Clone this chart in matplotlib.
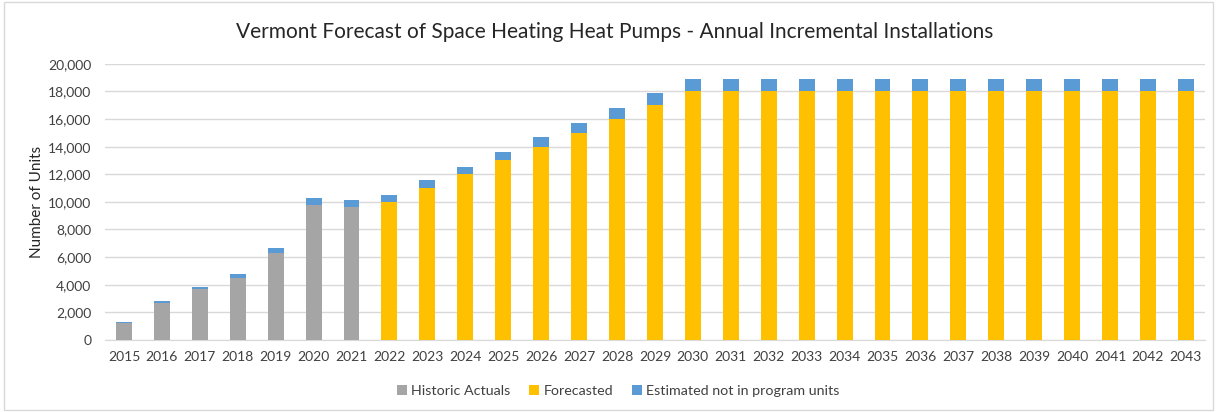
import matplotlib.pyplot as plt
from matplotlib.patches import Rectangle

plt.rcParams['font.family'] = ['Lato', 'DejaVu Sans']

# Annual incremental installations
years = [str(y) for y in range(2015, 2044)]
historic = [1250, 2700, 3670, 4520, 6280, 9810, 9610] + [0] * 22
forecast = [0] * 7 + [10000, 11000, 12000, 13000, 14000, 15000, 16000, 17000] + [18000] * 14
not_in_program = [80, 150, 150, 260, 360, 500, 530,
                  480, 550, 560, 650, 700, 720, 790, 870] + [890] * 14

gray = '#A5A5A5'
yellow = '#FFC000'
blue = '#5B9BD5'

fig = plt.figure(figsize=(12.17, 4.12), dpi=100)
ax = fig.add_axes([0.0863, 0.175, 0.9037, 0.670])

x = range(len(years))
base = [h + f for h, f in zip(historic, forecast)]
w = 0.42
ax.bar(x, historic, width=w, color=gray, label='Historic Actuals', zorder=3)
ax.bar(x, forecast, width=w, bottom=historic, color=yellow, label='Forecasted', zorder=3)
ax.bar(x, not_in_program, width=w, bottom=base, color=blue,
       label='Estimated not in program units', zorder=3)

ax.set_xlim(-0.5, len(years) - 0.5)
ax.set_ylim(0, 20000)
ax.set_yticks(range(0, 20001, 2000))
ax.set_yticklabels([f'{v:,}' for v in range(0, 20001, 2000)])
ax.set_xticks(list(x))
ax.set_xticklabels(years)
ax.tick_params(axis='both', length=0, labelsize=10, colors='#404040')
ax.tick_params(axis='y', pad=10)
ax.tick_params(axis='x', pad=8)
ax.yaxis.grid(True, color='#D9D9D9', linewidth=1, zorder=0)
for s in ['top', 'right', 'left']:
    ax.spines[s].set_visible(False)
ax.spines['bottom'].set_color('#D9D9D9')

ax.set_ylabel('Number of Units', fontsize=11, color='#262626', labelpad=3)
fig.text(0.505, 0.922, 'Vermont Forecast of Space Heating Heat Pumps - Annual Incremental Installations',
         ha='center', va='center', fontsize=15, color='#262626')

fig.legend(loc='center', bbox_to_anchor=(0.508, 0.05), ncol=3, frameon=False,
           fontsize=10.3, handlelength=0.7, handleheight=0.7, handletextpad=0.3,
           columnspacing=1.3, labelcolor='#404040')

fig.patches.append(Rectangle((0.003, 0.005), 0.994, 0.99, transform=fig.transFigure,
                             fill=False, edgecolor='#D9D9D9', linewidth=1))

fig.savefig('out.png', dpi=100)
